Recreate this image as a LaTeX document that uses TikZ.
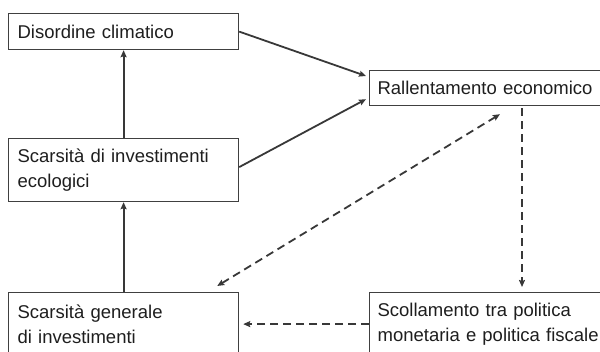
\documentclass[tikz,border=0pt]{standalone}
\usepackage{fontspec}
\setmainfont{Liberation Sans}
\usetikzlibrary{arrows.meta,calc}
\definecolor{boxline}{HTML}{404040}
\definecolor{arrowcol}{HTML}{383838}
\definecolor{txt}{HTML}{1E1E1E}
\begin{document}
\begin{tikzpicture}[x=1pt,y=-1pt,
  every node/.style={font=\fontsize{18.5pt}{25pt}\selectfont, text=txt},
  leftbox/.style={draw=boxline, line width=1.2pt, anchor=north west, text width=212pt, inner xsep=9pt, inner ysep=0pt, align=left},
  rightbox/.style={draw=boxline, line width=1.2pt, anchor=north west, text width=227pt, inner xsep=8pt, inner ysep=0pt, align=left},
  solidarrow/.style={draw=arrowcol, line width=1.8pt, -{Stealth[length=7pt,width=6pt,inset=1pt]}},
  dasharrow/.style={draw=arrowcol, line width=1.8pt, dash pattern=on 8pt off 5pt, -{Stealth[length=7pt,width=6pt,inset=1pt]}},
  dashboth/.style={draw=arrowcol, line width=1.8pt, dash pattern=on 8pt off 5pt, {Stealth[length=7pt,width=6pt,inset=1pt]}-{Stealth[length=7pt,width=6pt,inset=1pt]}}
]
\useasboundingbox (0,0) rectangle (600,351);
\node[leftbox, minimum height=36pt] (A) at (8,13) {Disordine climatico};
\node[leftbox, minimum height=63pt] (B) at (8,138) {Scarsità di investimenti\\ecologici};
\node[leftbox, minimum height=63pt] (D) at (8,292) {Scarsità generale\\di investimenti};
\node[rightbox, minimum height=35pt] (C) at (369,70) {Rallentamento economico};
\node[rightbox, minimum height=63pt] (E) at (369,292) {Scollamento tra politica\\monetaria e politica fiscale};

\draw[solidarrow] (B.north) -- (A.south);
\draw[solidarrow] (D.north) -- (B.south);
\draw[solidarrow] (A.east) -- ($(C.north west)+(-3,6)$);
\draw[solidarrow] ($(B.east)+(0,-3)$) -- ($(C.south west)+(-3,-7)$);
\draw[dasharrow] ($(C.south west)+(153,2)$) -- ($(E.north west)+(153,-5)$);
\draw[dasharrow] (E.west) -- ($(D.east)+(4,0)$);
\draw[dashboth] ($(D.north east)+(-22,-6)$) -- ($(C.south west)+(131,8)$);
\end{tikzpicture}
\end{document}
